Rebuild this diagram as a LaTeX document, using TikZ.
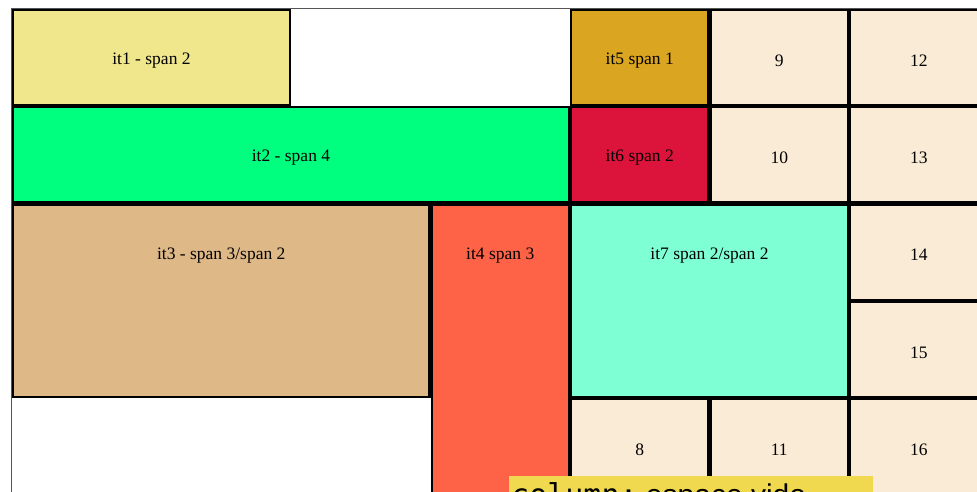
\documentclass[tikz,border=0pt]{standalone}
\usepackage{fontspec}
\setmainfont{Liberation Serif}
\newfontfamily\slidesans{Liberation Sans}
\newfontfamily\slidemono{DejaVu Sans Mono}
\definecolor{khakic}{HTML}{F0E68C}
\definecolor{springc}{HTML}{00FF7F}
\definecolor{burlyc}{HTML}{DEB887}
\definecolor{tomatoc}{HTML}{FF6347}
\definecolor{goldenc}{HTML}{DAA520}
\definecolor{crimsonc}{HTML}{DC143C}
\definecolor{aquac}{HTML}{7FFFD4}
\definecolor{antiquec}{HTML}{FAEBD7}
\definecolor{notec}{HTML}{F0D94E}
\definecolor{framec}{HTML}{555555}
\tikzset{
  cellbox/.style={draw=black, line width=2.2pt},
  celltext/.style={font=\fontsize{17.5}{20}\selectfont, inner sep=0pt, text=black},
  framebox/.style={draw=framec, line width=1pt},
  notebox/.style={fill=notec},
}
\newcommand\gcell[7]{%
  \path[cellbox, fill=#6] ({#2+1.1},{#3+1.1}) rectangle ({#4-1.1},{#5-1.1});
  \node[celltext] (#1) at ({(#2+#4)/2},{#3+51.5}) {#7};%
}
\begin{document}
\begin{tikzpicture}[x=1pt,y=-1pt]
\useasboundingbox (0,0) rectangle (977,492);
\clip (0,0) rectangle (977,492);
\fill[white] (0,0) rectangle (977,492);
% container frame
\draw[framebox] (11.5,520) -- (11.5,8.5) -- (1000,8.5);
% items
\gcell{it1}{12}{9}{291}{106.3}{khakic}{it1 - span 2}
\gcell{it2}{12}{106.3}{570}{203.6}{springc}{it2 - span 4}
\gcell{it3}{12}{203.6}{430.5}{398.2}{burlyc}{it3 - span 3/span 2}
\gcell{it4}{430.5}{203.6}{570}{495.5}{tomatoc}{it4 span 3}
\gcell{it5}{570}{9}{709.5}{106.3}{goldenc}{it5 span 1}
\gcell{it6}{570}{106.3}{709.5}{203.6}{crimsonc}{it6 span 2}
\gcell{it7}{570}{203.6}{849}{398.2}{aquac}{it7 span 2/span 2}
\gcell{n8}{570}{398.2}{709.5}{495.5}{antiquec}{8}
\gcell{n9}{709.5}{9}{849}{106.3}{antiquec}{9}
\gcell{n10}{709.5}{106.3}{849}{203.6}{antiquec}{10}
\gcell{n11}{709.5}{398.2}{849}{495.5}{antiquec}{11}
\gcell{n12}{849}{9}{988.5}{106.3}{antiquec}{12}
\gcell{n13}{849}{106.3}{988.5}{203.6}{antiquec}{13}
\gcell{n14}{849}{203.6}{988.5}{300.9}{antiquec}{14}
\gcell{n15}{849}{300.9}{988.5}{398.2}{antiquec}{15}
\gcell{n16}{849}{398.2}{988.5}{495.5}{antiquec}{16}
% note
\fill[notebox] (509,476) rectangle (872.5,520);
\node[anchor=base west, inner sep=0pt, font=\fontsize{30}{36}\selectfont] (note) at (511,505)
  {{\slidemono column:}{\slidesans\ espace vide}};
\end{tikzpicture}
\end{document}
